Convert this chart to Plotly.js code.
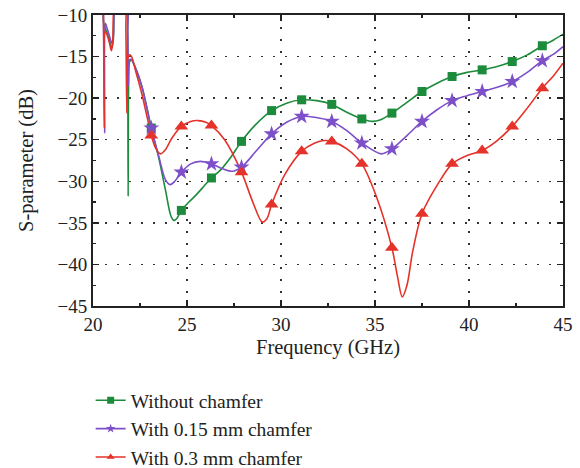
<!DOCTYPE html>
<html>
<head>
<meta charset="utf-8">
<script src="https://cdn.plot.ly/plotly-3.0.1.min.js"></script>
<style>html,body{margin:0;padding:0;background:#fff;}#chart{width:580px;height:468px;}</style>
</head>
<body>
<div id="chart"></div>
<script>
// Series names
const seriesNames = ["Without chamfer", "With 0.15 mm chamfer", "With 0.3 mm chamfer"];

// Dense curve data (frequency in GHz, S-parameter in dB)
const greenFreq = [20.0, 20.5, 20.56, 20.62, 20.72, 20.86, 21.0, 21.08, 21.15, 21.4, 21.8, 21.84, 21.87, 21.9, 21.95, 22.05, 22.3, 22.6, 22.85, 23.1, 23.5, 23.85, 24.15, 24.3, 24.45, 24.7, 25.1, 25.5, 25.9, 26.3, 26.8, 27.3, 27.9, 28.6, 29.5, 30.3, 31.1, 31.9, 32.7, 33.5, 34.3, 34.85, 35.3, 35.9, 36.7, 37.5, 38.3, 39.1, 39.9, 40.7, 41.5, 42.3, 43.1, 43.9, 44.5, 45.0];
const greenDb   = [-6, -8, -10.8, -11.4, -12.0, -12.9, -14.0, -13.0, -9.0, -7, -8, -12, -31.8, -17.5, -15.6, -15.4, -16.6, -18.6, -21.0, -23.6, -27.2, -31.0, -34.2, -34.7, -34.5, -33.5, -32.5, -31.6, -30.6, -29.6, -28.6, -27.2, -25.2, -23.3, -21.5, -20.6, -20.2, -20.3, -20.75, -21.7, -22.5, -22.8, -22.6, -21.8, -20.5, -19.2, -18.2, -17.4, -16.9, -16.6, -16.2, -15.6, -14.8, -13.7, -13.0, -12.3];

const purpleFreq = [20.0, 20.5, 20.55, 20.62, 20.66, 20.72, 20.86, 21.0, 21.08, 21.15, 21.4, 21.8, 21.85, 21.88, 21.92, 22.0, 22.3, 22.6, 22.85, 23.1, 23.5, 23.85, 24.1, 24.35, 24.7, 25.2, 25.7, 26.3, 26.9, 27.4, 27.9, 28.7, 29.5, 30.3, 31.1, 31.8, 32.7, 33.5, 34.3, 35.35, 35.9, 36.7, 37.5, 38.3, 39.1, 39.9, 40.7, 41.5, 42.3, 43.1, 43.9, 44.5, 45.0];
const purpleDb   = [-6, -8, -10, -24.2, -11.0, -11.4, -12.4, -13.4, -12.6, -9.0, -7, -8, -12, -18.5, -15.6, -15.3, -16.6, -18.6, -21.0, -23.6, -27.0, -29.8, -30.4, -30.0, -28.9, -27.9, -27.6, -27.9, -28.5, -28.8, -28.3, -26.3, -24.3, -22.9, -22.2, -22.3, -22.8, -23.9, -25.4, -26.7, -26.1, -24.5, -22.8, -21.4, -20.3, -19.7, -19.2, -18.7, -18.0, -16.9, -15.5, -14.7, -13.8];

const redFreq = [20.0, 20.5, 20.55, 20.6, 20.65, 20.75, 20.88, 20.98, 21.05, 21.12, 21.4, 21.7, 21.75, 21.8, 21.85, 21.95, 22.05, 22.3, 22.6, 22.9, 23.1, 23.35, 23.6, 23.85, 24.2, 24.7, 25.2, 25.6, 26.0, 26.3, 27.0, 27.9, 28.5, 29.0, 29.25, 29.5, 30.2, 31.1, 31.8, 32.3, 32.7, 33.5, 34.3, 35.1, 35.9, 36.2, 36.45, 36.7, 37.0, 37.5, 38.3, 39.1, 39.9, 40.7, 41.5, 42.3, 43.1, 43.9, 44.5, 45.0];
const redDb   = [-6, -8, -10, -23.6, -12.0, -12.4, -13.4, -14.3, -13.2, -9.0, -7, -8, -12, -21.8, -15.2, -14.8, -15.0, -17.0, -19.5, -22.5, -24.5, -26.1, -26.7, -26.2, -24.8, -23.4, -22.8, -22.7, -22.9, -23.3, -25.0, -28.9, -32.5, -34.9, -34.5, -32.8, -29.2, -26.4, -25.4, -25.1, -25.2, -26.1, -27.9, -32.0, -38.0, -41.5, -43.9, -42.5, -38.5, -33.9, -30.5, -27.9, -26.9, -26.3, -25.1, -23.4, -21.2, -18.8, -17.3, -15.8];

// Marker positions
const markerFreq = [23.1, 24.7, 26.3, 27.9, 29.5, 31.1, 32.7, 34.3, 35.9, 37.5, 39.1, 40.7, 42.3, 43.9];
const greenMarkDb  = [-23.6, -33.5, -29.6, -25.2, -21.5, -20.2, -20.75, -22.5, -21.8, -19.2, -17.4, -16.6, -15.6, -13.7];
const purpleMarkDb = [-23.6, -28.9, -27.9, -28.3, -24.3, -22.2, -22.8, -25.4, -26.1, -22.8, -20.3, -19.2, -18.0, -15.5];
const redMarkDb    = [-24.5, -23.4, -23.3, -28.9, -32.8, -26.4, -25.2, -27.9, -38.0, -33.9, -27.9, -26.3, -23.4, -18.8];

// Axis ticks
const xTicks = [20, 25, 30, 35, 40, 45];
const yTicks = [-45, -40, -35, -30, -25, -20, -15, -10];

const colors = ["#1c8c3c", "#7d4fc9", "#e5322a"];
const symbols = ["square", "star", "triangle-up"];
const msizes = [9, 12, 12];

const curves = [[greenFreq, greenDb], [purpleFreq, purpleDb], [redFreq, redDb]];
const marks = [greenMarkDb, purpleMarkDb, redMarkDb];

const traces = [];
for (let i = 0; i < 3; i++) {
  traces.push({
    x: curves[i][0], y: curves[i][1], type: "scatter", mode: "lines",
    line: {color: colors[i], width: 1.6, shape: "spline", smoothing: 0.9},
    showlegend: false, hoverinfo: "skip"
  });
}
for (let i = 0; i < 3; i++) {
  traces.push({
    x: markerFreq, y: marks[i], type: "scatter", mode: "markers",
    marker: {color: colors[i], symbol: symbols[i], size: msizes[i], line: {width: 0}},
    showlegend: false
  });
}
for (let i = 0; i < 3; i++) {
  traces.push({
    x: [null], y: [null], type: "scatter", mode: "lines+markers", name: seriesNames[i],
    line: {color: colors[i], width: 1.6},
    marker: {color: colors[i], symbol: symbols[i], size: 7}
  });
}

const fontFam = "'Liberation Serif', 'DejaVu Serif', serif";
const layout = {
  width: 580, height: 468,
  margin: {l: 93, r: 17, t: 15, b: 162, autoexpand: false},
  paper_bgcolor: "#fff", plot_bgcolor: "#fff",
  font: {family: fontFam, size: 19, color: "#222"},
  showlegend: true,
  legend: {
    x: -0.005, xanchor: "left", y: -0.258, yanchor: "top",
    font: {family: fontFam, size: 19.5, color: "#222"},
    traceorder: "normal", bgcolor: "rgba(0,0,0,0)"
  },
  xaxis: {
    range: [20, 45], tickvals: xTicks, ticktext: xTicks.map(String),
    ticks: "inside", ticklen: 6, tickwidth: 1.5, tickcolor: "#222",
    minor: {dtick: 2.5, ticks: "inside", ticklen: 3, tickwidth: 1.2, tickcolor: "#222", showgrid: false},
    showline: true, linecolor: "#222", linewidth: 2, mirror: "ticks",
    showgrid: true, gridcolor: "#333", gridwidth: 1.5, griddash: "1.5px,10.5px",
    zeroline: false,
    tickfont: {family: fontFam, size: 19, color: "#222"},
    title: {text: "Frequency (GHz)", font: {family: fontFam, size: 20.5, color: "#222"}, standoff: 6}
  },
  yaxis: {
    range: [-45, -10], tickvals: yTicks, ticktext: yTicks.map(v => "\u2212" + Math.abs(v)),
    ticks: "inside", ticklen: 6, tickwidth: 1.5, tickcolor: "#222",
    minor: {dtick: 2.5, ticks: "inside", ticklen: 3, tickwidth: 1.2, tickcolor: "#222", showgrid: false},
    showline: true, linecolor: "#222", linewidth: 2, mirror: "ticks",
    showgrid: true, gridcolor: "#333", gridwidth: 1.5, griddash: "1.5px,10.5px",
    zeroline: false,
    tickfont: {family: fontFam, size: 19, color: "#222"},
    title: {text: "S-parameter (dB)", font: {family: fontFam, size: 20.5, color: "#222"}, standoff: 18}
  }
};

Plotly.newPlot("chart", traces, layout, {staticPlot: true, displayModeBar: false});
</script>
</body>
</html>
